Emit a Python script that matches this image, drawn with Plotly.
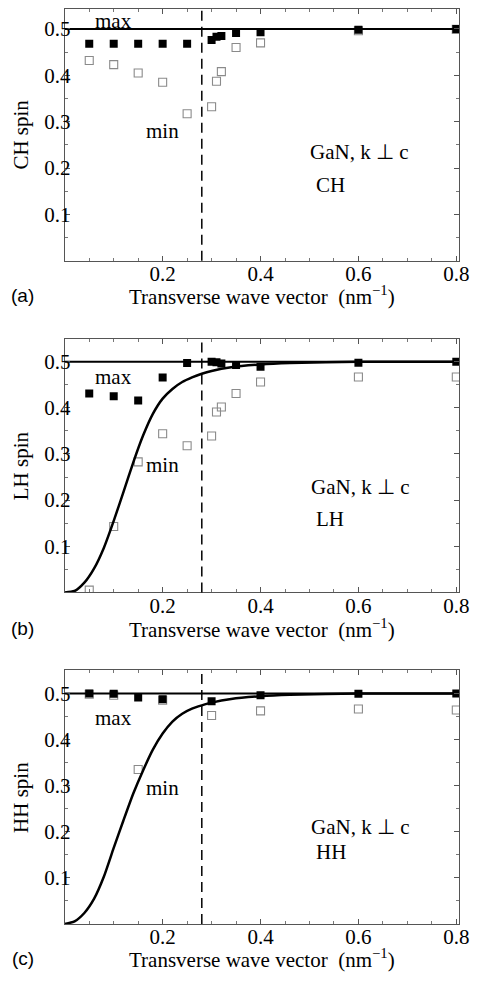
import plotly.graph_objects as go

# ---------------- data ----------------
k_ab = [0.05, 0.1, 0.15, 0.2, 0.25, 0.3, 0.31, 0.32, 0.35, 0.4, 0.6, 0.8]
ch_max = [0.468, 0.468, 0.468, 0.468, 0.468, 0.476, 0.483, 0.485, 0.491, 0.493, 0.498, 0.5]
ch_min = [0.432, 0.423, 0.405, 0.385, 0.317, 0.332, 0.387, 0.408, 0.460, 0.470, 0.496, 0.499]

lh_max = [0.431, 0.425, 0.416, 0.466, 0.497, 0.5, 0.499, 0.496, 0.493, 0.489, 0.498, 0.5]
lh_min = [0.005, 0.143, 0.283, 0.344, 0.318, 0.339, 0.391, 0.402, 0.431, 0.456, 0.467, 0.467]

k_c = [0.05, 0.1, 0.15, 0.2, 0.3, 0.4, 0.6, 0.8]
hh_max = [0.5, 0.499, 0.491, 0.487, 0.483, 0.496, 0.499, 0.5]
hh_min = [0.498, 0.496, 0.335, 0.485, 0.452, 0.462, 0.466, 0.464]

curve_k = [0, 0.02, 0.04, 0.06, 0.08, 0.10, 0.12, 0.14, 0.16, 0.18, 0.20,
           0.22, 0.24, 0.26, 0.28, 0.30, 0.34, 0.40, 0.46, 0.6, 0.806]
lh_curve_s = [0, 0.003, 0.021, 0.052, 0.097, 0.155, 0.218, 0.282, 0.340, 0.387, 0.420,
              0.441, 0.456, 0.466, 0.474, 0.480, 0.488, 0.494, 0.497, 0.5, 0.5]
hh_curve_s = [0, 0.006, 0.024, 0.055, 0.103, 0.165, 0.225, 0.283, 0.333, 0.378, 0.413,
              0.439, 0.456, 0.467, 0.474, 0.480, 0.488, 0.494, 0.497, 0.5, 0.5]

spin_limit = 0.5
k_range = [0, 0.806]
s_ranges = [[0, 0.543], [0, 0.55], [0, 0.55]]
k_dashed = 0.28

x_ticks = [0.2, 0.4, 0.6, 0.8]
x_ticktext = ["0.2", "0.4", "0.6", "0.8"]
y_ticks = [0.1, 0.2, 0.3, 0.4, 0.5]
y_ticktext = ["0.1", "0.2", "0.3", "0.4", "0.5"]

panels = [
    dict(tag="(a)", ylab="CH spin", band="CH", k=k_ab, smax=ch_max, smin=ch_min,
         cs=None, maxpos=(0.099, 0.518), minpos=(0.2, 0.28),
         ganpos=(0.497, 0.235), bandpos=(0.509, 0.163)),
    dict(tag="(b)", ylab="LH spin", band="LH", k=k_ab, smax=lh_max, smin=lh_min,
         cs=lh_curve_s, maxpos=(0.099, 0.466), minpos=(0.2, 0.277),
         ganpos=(0.499, 0.229), bandpos=(0.509, 0.16)),
    dict(tag="(c)", ylab="HH spin", band="HH", k=k_c, smax=hh_max, smin=hh_min,
         cs=hh_curve_s, maxpos=(0.099, 0.446), minpos=(0.2, 0.295),
         ganpos=(0.5, 0.211), bandpos=(0.51, 0.157)),
]

# page body has an 8px margin; the visible page area ends near x=480
OFF = 8
W, H = 472, 965
x_left, x_right = 66 - OFF, 469 - OFF
rows = [(8 - OFF, 260 - OFF), (338 - OFF, 592 - OFF), (670 - OFF, 924 - OFF)]
title_y = [295 - OFF, 628 - OFF, 958 - OFF]

SERIF = "Liberation Serif, Times New Roman, serif"
SANS = "Liberation Sans, Arial, sans-serif"
AX = "#555555"

fig = go.Figure()
layout = dict(width=W, height=H, margin=dict(l=0, r=0, t=0, b=0, pad=0),
              paper_bgcolor="white", plot_bgcolor="white", showlegend=False)
annotations = []
shapes = []

for i, p in enumerate(panels):
    n = "" if i == 0 else str(i + 1)
    xa, ya = "x" + n, "y" + n
    top, bot = rows[i]
    common = dict(ticks="inside", ticklen=5, tickcolor=AX, tickwidth=1, showline=True,
                  linecolor=AX, linewidth=1, mirror="allticks", showgrid=False,
                  zeroline=False, tickfont=dict(family=SERIF, size=21, color="black"),
                  ticklabeloverflow="allow",
                  minor=dict(dtick=0.05, tick0=0, ticks="inside", ticklen=3,
                             tickcolor="#777777", showgrid=False))
    layout["xaxis" + n] = dict(domain=[x_left / W, x_right / W], range=k_range, anchor=ya,
                               tickvals=x_ticks, ticktext=x_ticktext,
                               ticklabelstandoff=-6, **common)
    layout["yaxis" + n] = dict(domain=[max(0, 1 - bot / H), min(1, 1 - top / H)],
                               range=s_ranges[i], anchor=xa,
                               tickvals=y_ticks, ticktext=y_ticktext,
                               ticklabelstandoff=-11, **common)
    shapes.append(dict(type="line", xref=xa, yref=ya + " domain", x0=k_dashed, x1=k_dashed,
                       y0=0, y1=1, line=dict(color="black", width=1.5, dash="10px,6px")))
    fig.add_trace(go.Scatter(x=p["k"], y=p["smin"], mode="markers", xaxis=xa, yaxis=ya,
                             marker=dict(symbol="square-open", size=8, color="#8a8a8a",
                                         line=dict(width=1.1, color="#8a8a8a"))))
    fig.add_trace(go.Scatter(x=k_range, y=[spin_limit, spin_limit], mode="lines",
                             xaxis=xa, yaxis=ya, line=dict(color="black", width=2)))
    if p["cs"] is not None:
        fig.add_trace(go.Scatter(x=curve_k, y=p["cs"], mode="lines", xaxis=xa, yaxis=ya,
                                 line=dict(color="black", width=2.5, shape="spline",
                                           smoothing=0.6)))
    fig.add_trace(go.Scatter(x=p["k"], y=p["smax"], mode="markers", xaxis=xa, yaxis=ya,
                             marker=dict(symbol="square", size=8, color="black",
                                         line=dict(width=0))))

    def txt(pos, s, anchor="center"):
        annotations.append(dict(x=pos[0], y=pos[1], xref=xa, yref=ya, text=s,
                                showarrow=False, xanchor=anchor, yanchor="middle",
                                font=dict(family=SERIF, size=21, color="black")))
    txt(p["maxpos"], "max")
    txt(p["minpos"], "min")
    txt(p["ganpos"], "GaN, k \u22a5 c", "left")
    txt(p["bandpos"], p["band"], "left")
    annotations.append(dict(x=(21 - OFF) / W, y=1 - ((top + bot) / 2) / H,
                            xref="paper", yref="paper", text=p["ylab"], textangle=-90,
                            xanchor="center", yanchor="middle", showarrow=False,
                            font=dict(family=SERIF, size=21, color="black")))
    annotations.append(dict(x=((x_left + x_right) / 2) / W, y=1 - title_y[i] / H,
                            xref="paper", yref="paper", xanchor="center", yanchor="middle",
                            text="Transverse wave vector  (nm<sup>\u22121</sup>)",
                            showarrow=False, font=dict(family=SERIF, size=21, color="black")))
    annotations.append(dict(x=(23 - OFF) / W, y=1 - title_y[i] / H, xref="paper",
                            yref="paper", text=p["tag"], showarrow=False,
                            xanchor="center", yanchor="middle",
                            font=dict(family=SANS, size=19, color="black")))

layout["annotations"] = annotations
layout["shapes"] = shapes
fig.update_layout(**layout)
fig.write_html("out.html")
